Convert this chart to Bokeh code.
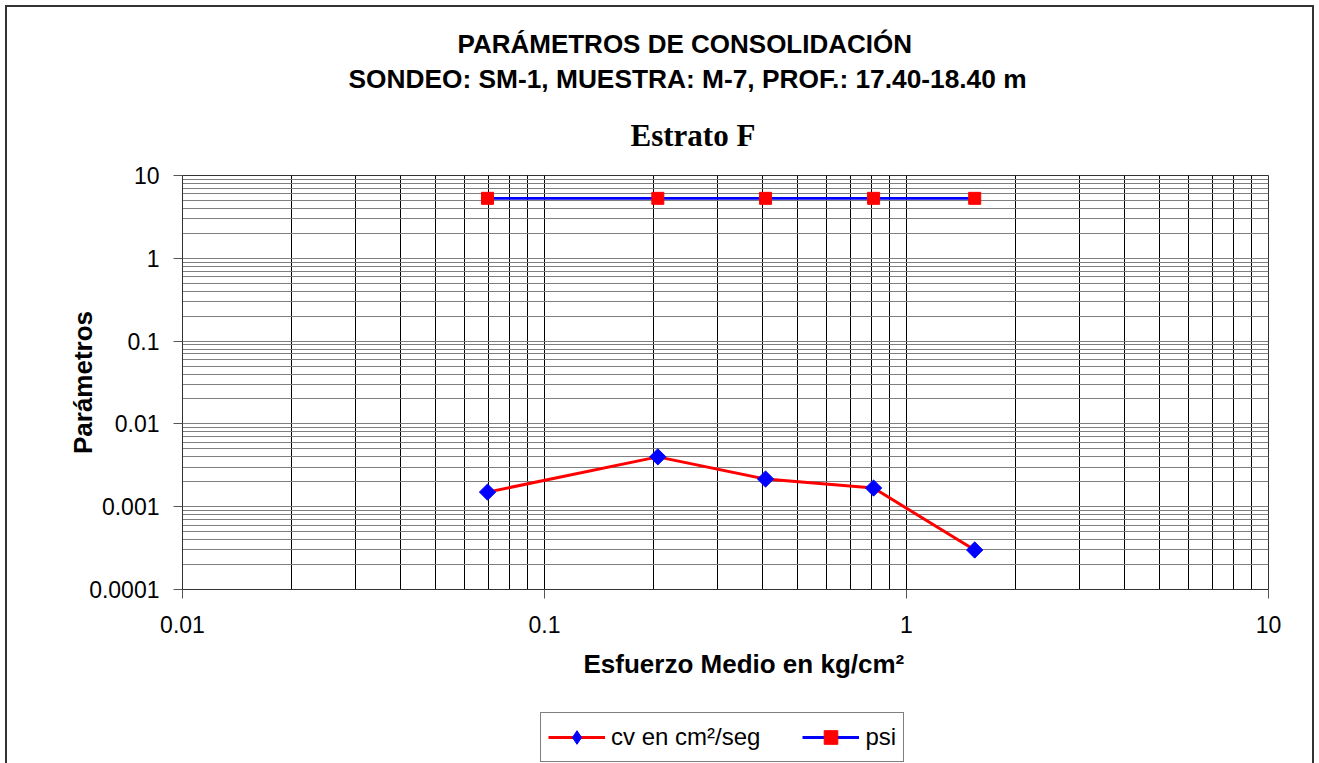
from bokeh.plotting import figure
from bokeh.layouts import column
from bokeh.models import FixedTicker, CustomJSTickFormatter, Legend, LegendItem, Title
from bokeh.embed import file_html
from bokeh.resources import INLINE
import math

# ---- data ----
esfuerzo = [0.0696, 0.2056, 0.408, 0.811, 1.543]
cv = [0.0015, 0.0040, 0.00216, 0.00168, 0.0003]
psi_x = [0.0696, 0.2056, 0.408, 0.811, 1.543]
psi = [5.3, 5.3, 5.3, 5.3, 5.3]

x_major = [0.01, 0.1, 1, 10]
x_minor = [m * d for d in [0.01, 0.1, 1] for m in range(2, 10)]
y_major = [0.0001, 0.001, 0.01, 0.1, 1, 10]
y_minor = [m * d for d in [0.0001, 0.001, 0.01, 0.1, 1] for m in range(2, 10)]

title1 = "PARÁMETROS DE CONSOLIDACIÓN"
title2 = "SONDEO: SM-1, MUESTRA: M-7, PROF.: 17.40-18.40 m"
title3 = "Estrato F"
x_title = "Esfuerzo Medio en kg/cm²"
y_title = "Parámetros"
label_cv = "cv en cm²/seg"
label_psi = "psi"

SANS = "Liberation Sans"
SERIF = "Liberation Serif"

CV_LINE = dict(line_color="#FF0000", line_width=3)
CV_MARK = dict(marker="square", size=11.5, angle=math.pi / 4, fill_color="#0000FF", line_color="#0000FF")
PSI_LINE = dict(line_color="#0000FF", line_width=2.8)
PSI_MARK = dict(marker="square", size=12, fill_color="#FF0000", line_color="#FF0000")

p = figure(frame_width=1086, frame_height=414, x_axis_type="log", y_axis_type="log",
           x_range=(0.01, 10), y_range=(0.0001, 10),
           output_backend="svg", toolbar_location=None,
           min_border_left=175, min_border_right=44,
           min_border_top=168, min_border_bottom=118)
p.title.text = ""
p.background_fill_color = "white"
p.border_fill_color = "white"
p.outline_line_color = "#333333"
p.outline_line_width = 1

xt = FixedTicker(ticks=x_major, minor_ticks=x_minor)
yt = FixedTicker(ticks=y_major, minor_ticks=y_minor)
fmt = CustomJSTickFormatter(code="return tick.toString();")
p.xaxis.ticker = xt
p.yaxis.ticker = yt
p.xgrid.ticker = xt
p.ygrid.ticker = yt
p.xaxis.formatter = fmt
p.yaxis.formatter = fmt

for ax in (p.xaxis, p.yaxis):
    ax.major_tick_out = 9
    ax.major_tick_in = 0
    ax.minor_tick_out = 0
    ax.minor_tick_in = 0
    ax.axis_line_color = "#333333"
    ax.major_tick_line_color = "#555555"
    ax.major_label_text_font = SANS
    ax.major_label_text_font_size = "23px"
    ax.major_label_text_color = "black"
p.xaxis.major_label_standoff = 17
p.yaxis.major_label_standoff = 14

p.yaxis.axis_label = y_title
p.yaxis.axis_label_text_font = SANS
p.yaxis.axis_label_text_font_size = "26px"
p.yaxis.axis_label_text_font_style = "bold"
p.yaxis.axis_label_text_color = "black"
p.yaxis.axis_label_standoff = -12

p.xgrid.grid_line_color = "black"
p.xgrid.minor_grid_line_color = "black"
p.ygrid.grid_line_color = "#7f7f7f"
p.ygrid.minor_grid_line_color = "#7f7f7f"

# series
p.line(esfuerzo, cv, **CV_LINE)
p.scatter(esfuerzo, cv, **CV_MARK)
p.line(psi_x, psi, **PSI_LINE)
p.scatter(psi_x, psi, **PSI_MARK)

# titles above (first added = closest to the plot)
p.add_layout(Title(text=title3, text_font=SERIF, text_font_size="31px", text_font_style="bold",
                   text_color="black", align="left", offset=448, standoff=44,
                   vertical_align="middle"), "above")
p.add_layout(Title(text=title2, text_font=SANS, text_font_size="26.3px", text_font_style="bold",
                   text_color="black", align="left", offset=166, standoff=0,
                   vertical_align="middle"), "above")
p.add_layout(Title(text=title1, text_font=SANS, text_font_size="26px", text_font_style="bold",
                   text_color="black", align="left", offset=275, standoff=5,
                   vertical_align="middle"), "above")

# x title below the axis
p.add_layout(Title(text=x_title, text_font=SANS, text_font_size="26px", text_font_style="bold",
                   text_color="black", align="left", offset=401, standoff=24,
                   vertical_align="middle"), "below")

# legend strip below the chart (its sample glyphs use the same series, out of view)
leg = figure(width=1305, height=56, x_range=(100, 101), y_range=(100, 101),
             output_backend="svg", toolbar_location=None,
             x_axis_location=None, y_axis_location=None,
             min_border_left=0, min_border_right=0, min_border_top=0, min_border_bottom=0)
leg.title.text = ""
leg.grid.visible = False
leg.outline_line_color = None
leg.background_fill_color = "white"
leg.border_fill_color = "white"
l_cv = leg.line(esfuerzo, cv, **CV_LINE)
m_cv = leg.scatter(esfuerzo, cv, marker="diamond", size=16, fill_color="#0000FF", line_color="#0000FF")
l_psi = leg.line(psi_x, psi, **PSI_LINE)
m_psi = leg.scatter(psi_x, psi, **PSI_MARK)

legend = Legend(items=[LegendItem(label=label_cv, renderers=[l_cv, m_cv]),
                       LegendItem(label=label_psi, renderers=[l_psi, m_psi])],
                location=(358, 1), orientation="horizontal",
                glyph_width=57, glyph_height=34, label_height=34,
                label_standoff=6, spacing=42, padding=7, margin=0,
                border_line_color="black", border_line_width=1,
                background_fill_color="white", background_fill_alpha=1,
                label_text_font=SANS, label_text_font_size="24px",
                label_text_color="black")
leg.add_layout(legend)

lay = column(p, leg, spacing=0)
lay.styles = {"margin": "7px 0px 0px 7px", "outline": "2px solid #333333"}

open("out.html", "w").write(file_html(lay, INLINE))
